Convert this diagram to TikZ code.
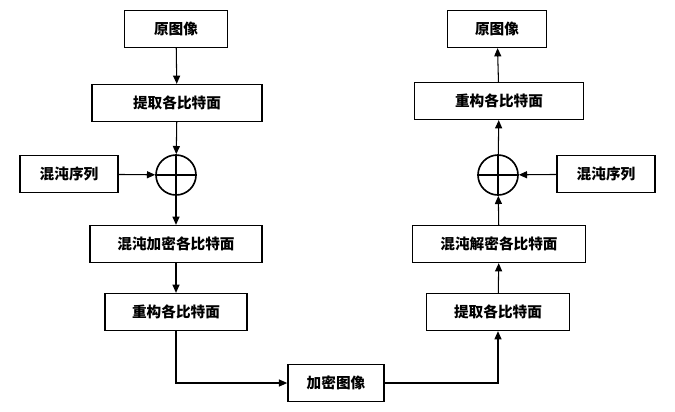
\documentclass[tikz,border=0pt]{standalone}
\usepackage{fontspec}
\newfontfamily\cjk{Noto Sans CJK SC}
\usetikzlibrary{positioning, arrows.meta}

\begin{document}
\begin{tikzpicture}[x=0.03cm, y=-0.03cm,
  every node/.style={font=\cjk\bfseries\fontsize{12.5}{14}\selectfont},
  box/.style={draw, line width=1.4pt, minimum height=1.1cm, inner xsep=6pt},
  xorc/.style={draw, circle, line width=1.4pt, minimum size=1.2cm, inner sep=0pt},
  arr/.style={-{Triangle[length=7pt,width=6pt]}, line width=0.9pt}]
\useasboundingbox (0,0) rectangle (675,411);
% Define the nodes (left column)
\node[box, minimum width=3.09cm] (srcL) at (176, 29) {原图像};
\node[box, minimum width=5.1cm] (extL) at (177, 103) {提取各比特面};
\node[xorc] (xorL) at (176, 175) {};
\node[box, minimum width=2.94cm] (chaosL) at (69, 174) {混沌序列};
\node[box, minimum width=5.16cm] (encL) at (176, 244) {混沌加密各比特面};
\node[box, minimum width=4.26cm] (recL) at (176, 312) {重构各比特面};
\node[box, minimum width=2.88cm] (cipher) at (336, 383) {加密图像};
% Define the nodes (right column)
\node[box, minimum width=2.97cm] (srcR) at (497, 29) {原图像};
\node[box, minimum width=5.07cm] (recR) at (499, 101) {重构各比特面};
\node[xorc] (xorR) at (498, 175) {};
\node[box, minimum width=2.94cm] (chaosR) at (606, 174) {混沌序列};
\node[box, minimum width=5.19cm] (decR) at (499, 244) {混沌解密各比特面};
\node[box, minimum width=4.29cm] (extR) at (498, 312) {提取各比特面};

% XOR crosses
\foreach \c in {xorL, xorR} {
  \draw[line width=1.4pt] (\c.north) -- (\c.south) (\c.west) -- (\c.east);
}

% Draw the maps
\draw[arr] (srcL) -- (extL);
\draw[arr] (extL) -- (xorL);
\draw[arr] (chaosL) -- (xorL);
\draw[arr] (xorL) -- (encL);
\draw[arr] (encL) -- (recL);
\draw[arr] (recL.south) |- (cipher.west);
\draw[arr] (cipher.east) -| (extR.south);
\draw[arr] (extR) -- (decR);
\draw[arr] (decR) -- (xorR);
\draw[arr] (chaosR) -- (xorR);
\draw[arr] (xorR) -- (recR);
\draw[arr] (recR) -- (srcR);
\end{tikzpicture}
\end{document}
